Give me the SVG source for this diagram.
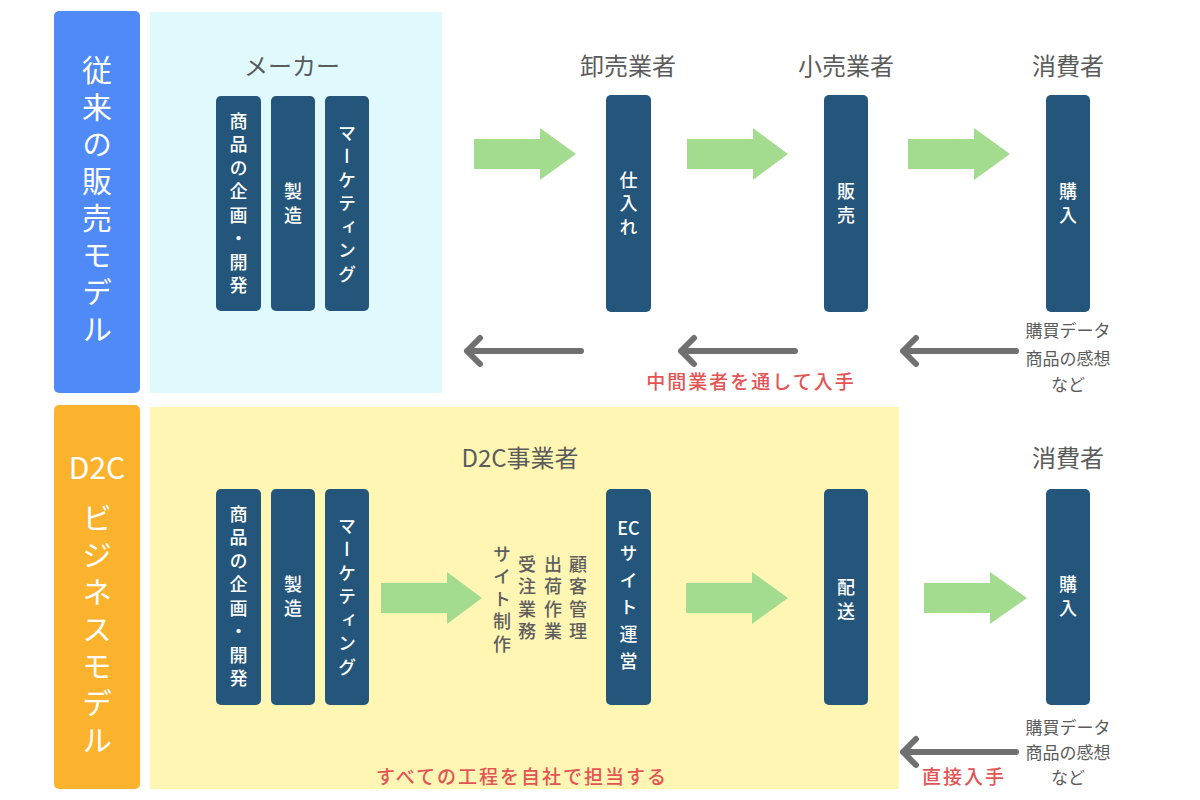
<svg xmlns="http://www.w3.org/2000/svg" width="1200" height="800" viewBox="0 0 1200 800">
<style>
text{font-family:"Noto Sans CJK JP","Noto Sans",sans-serif}
.lbl{fill:#ffffff;font-size:30px;writing-mode:vertical-rl;text-orientation:upright;letter-spacing:7px;text-anchor:middle}
.box{fill:#24567b}
.bt{fill:#ffffff;font-size:18px;font-weight:500;writing-mode:vertical-rl;text-orientation:upright;letter-spacing:5.5px;text-anchor:middle}
.hd{fill:#5b5b5b;font-size:24px;text-anchor:middle}
.note{fill:#5b5b5b;font-size:17px;text-anchor:middle}
.vt{fill:#5e5e5e;font-size:18px;font-weight:500;writing-mode:vertical-rl;text-orientation:upright;letter-spacing:4.5px;text-anchor:start}
.red{fill:#e35454;font-size:19px;font-weight:500;text-anchor:middle;letter-spacing:2px}
.ga{fill:#a3dc8f}
.gray{fill:none;stroke:#707070;stroke-width:6;stroke-linecap:round;stroke-linejoin:round}
</style>
<rect width="1200" height="800" fill="#ffffff"/>

<!-- Section backgrounds -->
<g id="section-traditional">
<rect x="54" y="11" width="86" height="382" rx="5" fill="#508af7"/>
<text class="lbl" x="97" y="203">従来の販売モデル</text>
<rect x="150" y="12" width="292" height="381" fill="#e0f9fd"/>
</g>
<g id="section-d2c">
<rect x="54" y="405" width="86" height="384" rx="5" fill="#fbb32e"/>
<text x="97" y="479" fill="#ffffff" font-size="30" text-anchor="middle">D2C</text>
<text class="lbl" x="97" y="632">ビジネスモデル</text>
<rect x="150" y="407" width="749" height="382" fill="#fff6b3"/>
</g>

<!-- Headings -->
<g id="headings">
<text class="hd" x="292" y="75">メーカー</text>
<text class="hd" x="628" y="75">卸売業者</text>
<text class="hd" x="846" y="75">小売業者</text>
<text class="hd" x="1068" y="75">消費者</text>
<text class="hd" x="520" y="467">D2C事業者</text>
<text class="hd" x="1068" y="467">消費者</text>
</g>

<!-- Top row nodes -->
<g id="node-top-planning">
<rect class="box" x="216" y="96" width="45" height="215" rx="5"/>
<text class="bt" x="238.5" y="206">商品の企画・開発</text>
</g>
<g id="node-top-manufacturing">
<rect class="box" x="271" y="96" width="44" height="215" rx="5"/>
<text class="bt" x="293" y="206">製造</text>
</g>
<g id="node-top-marketing">
<rect class="box" x="325" y="96" width="44" height="215" rx="5"/>
<text class="bt" x="347" y="206">マーケティング</text>
</g>
<g id="node-top-wholesale">
<rect class="box" x="606" y="95" width="45" height="217" rx="5"/>
<text class="bt" x="628.5" y="206">仕入れ</text>
</g>
<g id="node-top-retail">
<rect class="box" x="824" y="95" width="44" height="217" rx="5"/>
<text class="bt" x="846" y="206">販売</text>
</g>
<g id="node-top-consumer">
<rect class="box" x="1046" y="95" width="44" height="217" rx="5"/>
<text class="bt" x="1068" y="206">購入</text>
</g>
<g id="node-top-feedback">
<text class="note" x="1068" y="337">購買データ</text>
<text class="note" x="1068" y="365">商品の感想</text>
<text class="note" x="1068" y="391">など</text>
</g>

<!-- Bottom row nodes -->
<g id="node-bottom-planning">
<rect class="box" x="216" y="489" width="45" height="216" rx="5"/>
<text class="bt" x="238.5" y="599">商品の企画・開発</text>
</g>
<g id="node-bottom-manufacturing">
<rect class="box" x="271" y="489" width="44" height="216" rx="5"/>
<text class="bt" x="293" y="599">製造</text>
</g>
<g id="node-bottom-marketing">
<rect class="box" x="325" y="489" width="44" height="216" rx="5"/>
<text class="bt" x="347" y="599">マーケティング</text>
</g>
<g id="node-bottom-tasks">
<text class="vt" x="578" y="555">顧客管理</text>
<text class="vt" x="553" y="555">出荷作業</text>
<text class="vt" x="527" y="555">受注業務</text>
<text class="vt" x="502" y="545">サイト制作</text>
</g>
<g id="node-bottom-ec">
<rect class="box" x="606" y="489" width="45" height="216" rx="5"/>
<text x="628.5" y="535" fill="#ffffff" font-size="18" font-weight="500" text-anchor="middle">EC</text>
<text class="bt" x="628.5" y="544" style="text-anchor:start;letter-spacing:9px">サイト運営</text>
</g>
<g id="node-bottom-delivery">
<rect class="box" x="824" y="489" width="44" height="216" rx="5"/>
<text class="bt" x="846" y="602">配送</text>
</g>
<g id="node-bottom-consumer">
<rect class="box" x="1046" y="489" width="44" height="216" rx="5"/>
<text class="bt" x="1068" y="599">購入</text>
</g>
<g id="node-bottom-feedback">
<text class="note" x="1068" y="734">購買データ</text>
<text class="note" x="1068" y="759">商品の感想</text>
<text class="note" x="1068" y="784">など</text>
</g>

<!-- Connectors -->
<g id="connectors">
<polygon class="ga" points="474,139 540,139 540,128 576,154 540,180 540,169 474,169"/>
<polygon class="ga" points="687,139 753,139 753,128 788,154 753,180 753,169 687,169"/>
<polygon class="ga" points="908,139 974,139 974,128 1010,154 974,180 974,169 908,169"/>
<polygon class="ga" points="381,583 447,583 447,572 482,598 447,624 447,613 381,613"/>
<polygon class="ga" points="686,583 752,583 752,572 788,598 752,624 752,613 686,613"/>
<polygon class="ga" points="924,583 990,583 990,572 1027,598 990,624 990,613 924,613"/>

<path class="gray" d="M581,351 L467,351 M480,338 L467,351 L480,364"/>
<path class="gray" d="M795,351 L681,351 M694,338 L681,351 L694,364"/>
<path class="gray" d="M1016,351 L903,351 M916,338 L903,351 L916,364"/>
<path class="gray" d="M1016,752 L903,752 M916,739 L903,752 L916,765"/>
</g>

<!-- Annotations -->
<g id="annotations">
<text class="red" x="751" y="389">中間業者を通して入手</text>
<text class="red" x="964" y="784">直接入手</text>
<text class="red" x="522" y="784">すべての工程を自社で担当する</text>
</g>
</svg>
